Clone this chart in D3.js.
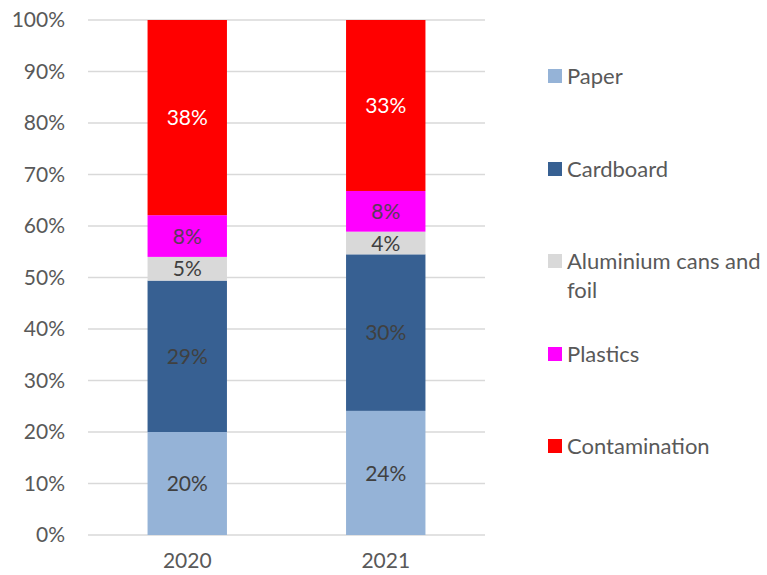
<!DOCTYPE html>
<html>
<head>
<meta charset="utf-8">
<script src="https://cdn.jsdelivr.net/npm/d3@7"></script>
<style>
  html, body { margin: 0; padding: 0; background: #fff; }
  svg { display: block; font-family: Lato, "Open Sans", sans-serif; }
</style>
</head>
<body>
<svg id="chart" width="767" height="575"></svg>
<script>
const years = ["2020", "2021"];
const seriesNames = ["Paper", "Cardboard", "Aluminium cans and foil", "Plastics", "Contamination"];
const paper = [0.200, 0.241];
const cardboard = [0.294, 0.304];
const aluminium = [0.046, 0.044];
const plastics = [0.081, 0.079];
const contamination = [0.379, 0.332];
const yTicks = [0, 0.1, 0.2, 0.3, 0.4, 0.5, 0.6, 0.7, 0.8, 0.9, 1.0];

const colors = ["#95B3D7", "#376092", "#D9D9D9", "#FF00FF", "#FF0000"];
const labelColors = ["#404040", "#404040", "#404040", "#5A3A5A", "#FFFFFF"];
const seriesValues = [paper, cardboard, aluminium, plastics, contamination];

const table = years.map((y, i) => {
  const row = { year: y };
  seriesNames.forEach((s, k) => { row[s] = seriesValues[k][i]; });
  return row;
});
const stacked = d3.stack().keys(seriesNames)(table);

const svg = d3.select("#chart");
const x = d3.scaleBand().domain(years).range([88, 485]).paddingInner(0.6).paddingOuter(0.3);
const y = d3.scaleLinear().domain([0, 1]).range([535, 20]);
const textCol = "#595959";
const fs = 21;
const lfs = 22;

// gridlines
svg.append("g").selectAll("line").data(yTicks).join("line")
  .attr("x1", 88).attr("x2", 485)
  .attr("y1", d => y(d)).attr("y2", d => y(d))
  .attr("stroke", "#D9D9D9").attr("stroke-width", 1.5);

// y axis labels
const yAxis = d3.axisLeft(y).tickValues(yTicks).tickFormat(d3.format(".0%")).tickSize(0).tickPadding(0);
const gy = svg.append("g").attr("transform", "translate(65,0)").call(yAxis);
gy.select(".domain").remove();
gy.selectAll("text").attr("font-size", fs).attr("fill", textCol).attr("font-family", "Lato, sans-serif");

// x axis labels
const xAxis = d3.axisBottom(x).tickSize(0).tickPadding(0);
const gx = svg.append("g").attr("transform", "translate(0,553)").call(xAxis);
gx.select(".domain").remove();
gx.selectAll("text").attr("font-size", fs).attr("fill", textCol).attr("font-family", "Lato, sans-serif");

// bars
stacked.forEach((layer, k) => {
  const g = svg.append("g");
  g.selectAll("rect").data(layer).join("rect")
    .attr("x", d => x(d.data.year))
    .attr("width", x.bandwidth())
    .attr("y", d => y(d[1]))
    .attr("height", d => y(d[0]) - y(d[1]))
    .attr("fill", colors[k]);
  g.selectAll("text").data(layer).join("text")
    .attr("x", d => x(d.data.year) + x.bandwidth() / 2)
    .attr("y", d => (y(d[0]) + y(d[1])) / 2)
    .attr("dy", "0.36em")
    .attr("text-anchor", "middle")
    .attr("font-size", fs)
    .attr("fill", labelColors[k])
    .text(d => d3.format(".0%")(d[1] - d[0]));
});

// legend
const legendY = [76, 169, 261, 354, 446];
const lg = svg.append("g");
seriesNames.forEach((s, k) => {
  lg.append("rect").attr("x", 548).attr("y", legendY[k] - 7).attr("width", 14).attr("height", 14).attr("fill", colors[k]);
  const t = lg.append("text").attr("x", 567).attr("y", legendY[k]).attr("dy", "0.36em")
    .attr("font-size", lfs).attr("fill", textCol);
  if (s === "Aluminium cans and foil") {
    t.append("tspan").attr("x", 567).text("Aluminium cans and");
    t.append("tspan").attr("x", 567).attr("dy", "1.3em").text("foil");
  } else {
    t.text(s);
  }
});
</script>
</body>
</html>
